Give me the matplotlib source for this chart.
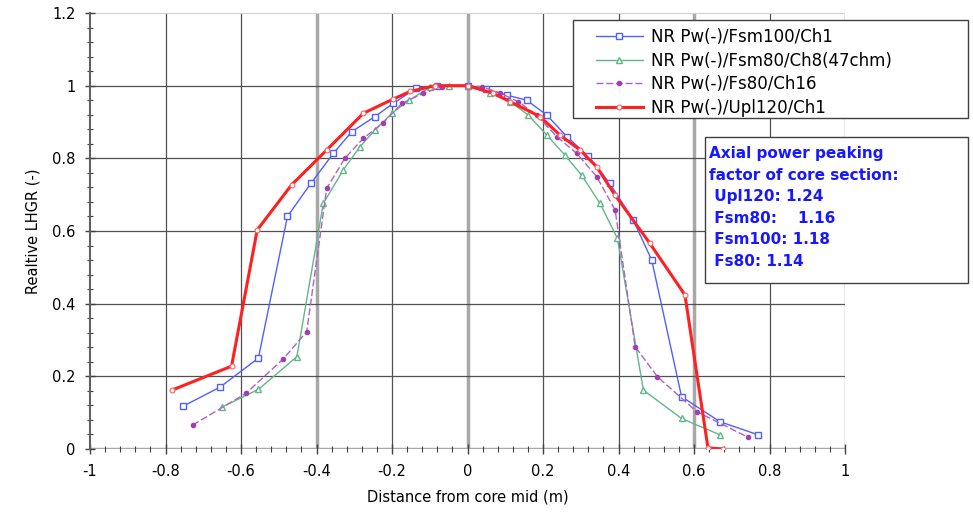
import matplotlib.pyplot as plt
from matplotlib.ticker import MultipleLocator
from matplotlib.patches import Rectangle

plt.rcParams['font.family'] = ['DejaVu Sans']

# Data
fsm100_x = [-0.753, -0.656, -0.554, -0.477, -0.415, -0.355, -0.307, -0.245, -0.197, -0.136,
            -0.08, 0.0, 0.05, 0.104, 0.157, 0.21, 0.263, 0.32, 0.377, 0.439, 0.488,
            0.567, 0.669, 0.77]
fsm100_y = [0.118, 0.17, 0.25, 0.64, 0.731, 0.814, 0.873, 0.915, 0.951, 0.993,
            1.0, 1.0, 0.99, 0.974, 0.96, 0.919, 0.86, 0.806, 0.731, 0.63, 0.52,
            0.144, 0.075, 0.039]

fsm80_x = [-0.651, -0.554, -0.452, -0.382, -0.329, -0.285, -0.245, -0.2, -0.155, -0.1,
           -0.05, 0.0, 0.06, 0.113, 0.161, 0.21, 0.258, 0.302, 0.351, 0.397,
           0.466, 0.567, 0.669]
fsm80_y = [0.115, 0.164, 0.254, 0.676, 0.768, 0.832, 0.878, 0.924, 0.96, 0.995,
           1.0, 1.0, 0.979, 0.956, 0.919, 0.864, 0.809, 0.754, 0.676, 0.58,
           0.162, 0.084, 0.039]

fs80_x = [-0.728, -0.587, -0.488, -0.426, -0.373, -0.325, -0.276, -0.223, -0.174, -0.117,
          -0.068, 0.0, 0.038, 0.086, 0.135, 0.183, 0.236, 0.289, 0.342, 0.391,
          0.444, 0.503, 0.607, 0.744]
fs80_y = [0.066, 0.153, 0.248, 0.323, 0.717, 0.80, 0.855, 0.898, 0.951, 0.979,
          0.997, 1.0, 0.997, 0.98, 0.956, 0.919, 0.86, 0.814, 0.75, 0.658,
          0.282, 0.199, 0.103, 0.032]

upl120_x = [-0.783, -0.625, -0.557, -0.466, -0.373, -0.276, -0.197, -0.152, -0.086, 0.0,
            0.068, 0.113, 0.192, 0.245, 0.298, 0.342, 0.39, 0.483, 0.576, 0.637, 0.677]
upl120_y = [0.162, 0.228, 0.603, 0.727, 0.823, 0.924, 0.963, 0.984, 1.0, 1.0,
            0.979, 0.956, 0.915, 0.864, 0.823, 0.777, 0.70, 0.566, 0.424, 0.003, 0.0]

labels = ["NR Pw(-)/Fsm100/Ch1", "NR Pw(-)/Fsm80/Ch8(47chm)",
          "NR Pw(-)/Fs80/Ch16", "NR Pw(-)/Upl120/Ch1"]
peaking_text = ("Axial power peaking\nfactor of core section:\n"
                " Upl120: 1.24\n Fsm80:    1.16\n Fsm100: 1.18\n Fs80: 1.14")

W, H = 973, 515
fig = plt.figure(figsize=(W / 100, H / 100), dpi=100)
ax = fig.add_axes([90 / W, 1 - 449 / H, 755 / W, 436 / H])

# grid
for gx in [-0.8, -0.6, -0.2, 0.2, 0.4, 0.8, 1.0]:
    ax.axvline(gx, color='#505050', lw=0.9, zorder=1)
for gx in [-0.4, 0.0, 0.6]:
    ax.axvline(gx, color='#a8a8a8', lw=2.5, zorder=1)
for gy in [0.2, 0.4, 0.6, 0.8, 1.0]:
    ax.axhline(gy, color='#505050', lw=0.9, zorder=1)
ax.axhline(1.2, color='#d0d0d0', lw=1.5, zorder=1)
ax.axhline(0.0, color='#a8a8a8', lw=2.5, zorder=1)

ax.plot(fsm100_x, fsm100_y, color='#5060ff', lw=1.0, marker='s', ms=4.5,
        mfc='white', mec='#5060ff', mew=1.0, label=labels[0], zorder=3)
ax.plot(fsm80_x, fsm80_y, color='#60b888', lw=1.0, marker='^', ms=4.5,
        mfc='white', mec='#60b888', mew=1.0, label=labels[1], zorder=3)
ax.plot(fs80_x, fs80_y, color='#b060c8', lw=1.0, ls=(0, (5, 2)), marker='o', ms=3,
        mfc='#a040b0', mec='#a040b0', label=labels[2], zorder=3)
ax.plot(upl120_x, upl120_y, color='#ff2020', lw=2.2, marker='o', ms=3.5,
        mfc='white', mec='#ff6060', mew=0.8, label=labels[3], zorder=4)

ax.set_xlim(-1, 1)
ax.set_ylim(0, 1.2)
ax.xaxis.set_minor_locator(MultipleLocator(0.04))
ax.yaxis.set_minor_locator(MultipleLocator(0.04))
ax.set_xticks([-1, -0.8, -0.6, -0.4, -0.2, 0, 0.2, 0.4, 0.6, 0.8, 1])
ax.set_xticklabels(['-1', '-0.8', '-0.6', '-0.4', '-0.2', '0', '0.2', '0.4', '0.6', '0.8', '1'])
ax.set_yticks([0, 0.2, 0.4, 0.6, 0.8, 1.0, 1.2])
ax.set_yticklabels(['0', '0.2', '0.4', '0.6', '0.8', '1', '1.2'])
ax.tick_params(which='major', direction='inout', length=7, width=1, color='#404040',
               labelsize=10.5, pad=7)
ax.tick_params(which='minor', direction='inout', length=4, width=0.8, color='#404040')

for s in ['top', 'right', 'bottom']:
    ax.spines[s].set_visible(False)
ax.spines['left'].set_color('#606060')
ax.spines['left'].set_linewidth(1.5)

ax.set_xlabel("Distance from core mid (m)", fontsize=10.5, labelpad=8)
ax.set_ylabel("Realtive LHGR (-)", fontsize=10.5, labelpad=8)

# legend frame spans past the right edge of the plot area
lx0, ly0, lx1, ly1 = 573, 20, 968, 118
fig.patches.append(Rectangle((lx0 / W, 1 - ly1 / H), (lx1 - lx0) / W, (ly1 - ly0) / H,
                             transform=fig.transFigure, fc='white', ec='#404040',
                             lw=1.0, zorder=5))
leg = fig.legend(loc='upper left', bbox_to_anchor=(596 / W, 1 - 28 / H),
                 fontsize=12, frameon=False, handlelength=2.8, borderpad=0,
                 labelspacing=0.34, borderaxespad=0, handletextpad=0.5)
leg.set_zorder(6)

# annotation box
bx0, by0, bx1, by1 = 705, 137, 968, 283
fig.patches.append(Rectangle((bx0 / W, 1 - by1 / H), (bx1 - bx0) / W, (by1 - by0) / H,
                             transform=fig.transFigure, fc='white', ec='#404040',
                             lw=1.0, zorder=5))
fig.text(709 / W, 1 - 146 / H, peaking_text, color='#1818ff', fontsize=11,
         fontweight='bold', ha='left', va='top', linespacing=1.55, zorder=6)

fig.savefig("out.png", dpi=100)
